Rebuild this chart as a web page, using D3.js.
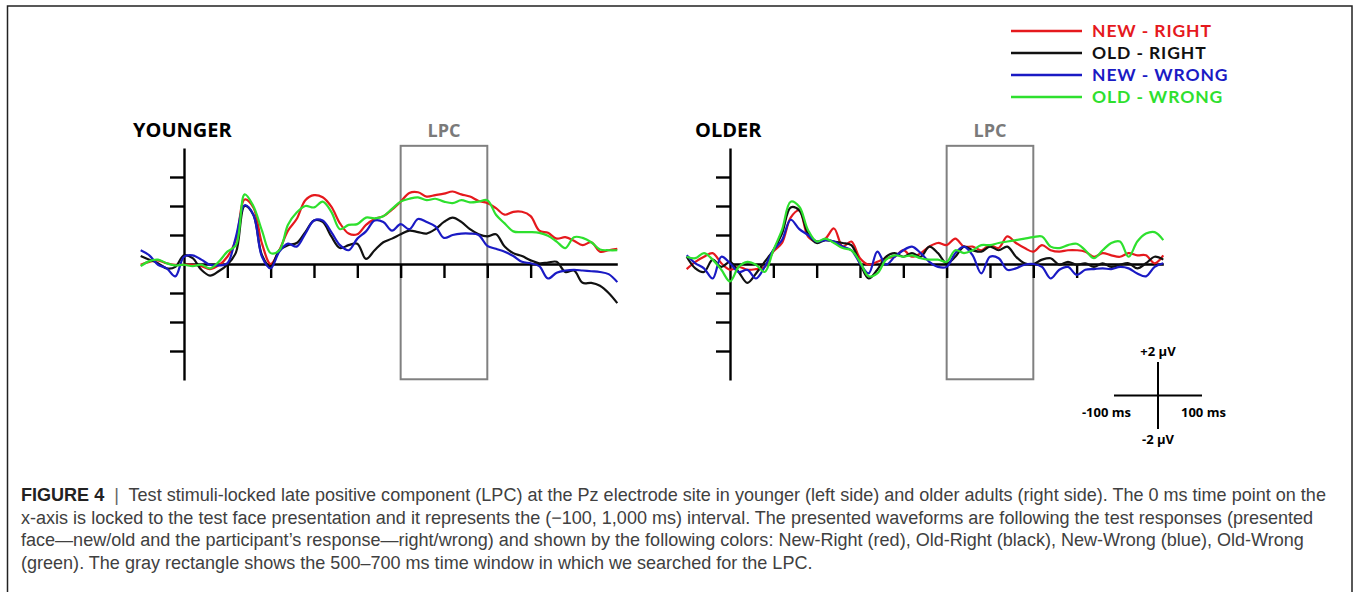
<!DOCTYPE html>
<html>
<head>
<meta charset="utf-8">
<script src="https://cdnjs.cloudflare.com/ajax/libs/d3/7.8.5/d3.min.js"></script>
<style>
	body { margin: 0; background: #fff; }
	svg { display: block; }
</style>
</head>
<body>
<div id="fig"><svg></svg></div>
<script>
var WIDTH = 1356;
var HEIGHT = 592;
var PX_PER_MS = 0.4333;

// time points (ms) of the sampled waveforms
var times = [-100, -80, -60, -40, -20, 0, 20, 40, 60, 80, 100, 120, 140, 160, 180, 200, 220, 240, 260, 280,
	300, 320, 340, 360, 380, 400, 420, 440, 460, 480, 500, 520, 540, 560, 580, 600, 620, 640, 660, 680,
	700, 720, 740, 760, 780, 800, 820, 840, 860, 880, 900, 920, 940, 960, 980, 1000];

// younger adults, µV
var youngRed = [-0.05, 0.15, 0.25, 0.05, -0.05, -0.05, -0.05, -0.15, -0.35, -0.1, 0.5, 1.7, 4.45, 3.9, 1.4, 0.0, 0.95, 2.3, 3.1, 4.4,
	4.75, 4.6, 3.95, 2.8, 2.1, 2.05, 2.7, 3.1, 3.3, 3.75, 4.3, 4.9, 4.95, 4.65, 4.75, 4.85, 5.0, 4.8, 4.65, 4.35,
	4.2, 3.85, 3.4, 3.6, 3.6, 3.3, 2.3, 2.15, 1.75, 1.85, 1.6, 1.3, 1.5, 0.85, 0.95, 1.05];
var youngBlack = [0.55, 0.3, 0.05, -0.3, -0.2, 0.6, 0.4, -0.4, -0.8, -0.5, -0.05, 0.8, 4.0, 3.4, 0.6, -0.2, 0.95, 1.3, 1.45, 2.2,
	3.0, 2.9, 1.9, 1.1, 1.3, 1.4, 0.35, 0.95, 1.5, 1.75, 2.05, 2.3, 2.2, 2.1, 2.4, 2.9, 3.2, 2.9, 2.4, 2.05,
	1.9, 2.05, 1.2, 0.75, 0.55, 0.25, 0.05, 0.1, 0.15, -0.55, -0.45, -1.3, -1.3, -1.5, -2.0, -2.7];
var youngBlue = [0.95, 0.6, -0.05, -0.3, -0.85, 0.5, 0.6, 0.3, -0.05, -0.1, 0.05, 1.9, 4.05, 3.4, 0.5, -0.3, 0.85, 1.4, 1.2, 2.1,
	3.0, 3.0, 2.2, 1.3, 0.95, 1.75, 2.25, 3.0, 2.9, 2.3, 2.75, 2.4, 3.1, 2.9, 2.6, 1.8, 2.0, 2.1, 2.1, 2.0,
	1.25, 1.05, 0.85, 0.55, 0.15, 0.05, -0.15, -1.0, -0.6, -0.45, -0.4, -0.45, -0.5, -0.55, -0.7, -1.25];
var youngGreen = [-0.15, 0.2, 0.3, 0.05, -0.1, -0.05, -0.15, -0.05, -0.3, 0.15, 0.85, 1.3, 4.8, 4.0, 2.3, 0.75, 0.95, 2.7, 3.55, 4.0,
	3.9, 4.3, 3.6, 2.4, 2.7, 2.75, 3.2, 3.15, 3.3, 3.8, 4.3, 4.5, 4.6, 4.4, 4.5, 4.3, 4.2, 4.4, 4.25, 4.3,
	4.4, 3.4, 2.8, 2.25, 2.2, 2.2, 2.15, 1.95, 1.55, 1.1, 1.85, 1.8, 1.5, 1.0, 0.95, 0.95];

// older adults, µV
var oldRed = [-0.35, 0.15, 0.5, 0.75, 0.05, -0.4, -0.2, -0.4, -0.35, -0.2, 0.85, 1.45, 3.2, 3.7, 1.9, 1.55, 1.75, 2.45, 1.2, 1.55,
	0.4, -0.05, 0.15, 0.4, 0.5, 0.95, 0.5, 0.75, 1.2, 1.45, 1.3, 1.75, 1.2, 1.2, 0.95, 1.3, 1.1, 1.9, 1.45, 1.1,
	0.85, 1.3, 0.95, 0.85, 0.95, 0.95, 0.85, 0.5, 0.75, 0.6, 0.5, 0.75, 0.6, 0.6, 0.05, 0.6];
var oldBlack = [0.5, -0.3, -0.55, 0.3, -0.2, 0.15, -0.55, -1.3, -0.65, 0.15, 0.95, 2.1, 3.9, 3.7, 2.1, 1.45, 1.65, 1.55, 1.45, 1.3,
	0.05, -1.0, -0.4, 0.5, 0.75, 0.5, 0.75, 0.5, 1.2, 0.75, 0.05, 0.5, 1.2, 0.95, 0.85, 1.2, 0.95, 1.2, 0.5, 0.05,
	0.0, 0.3, 0.4, -0.05, 0.15, -0.05, 0.05, -0.2, 0.05, -0.2, -0.05, 0.05, -0.3, 0.05, 0.5, 0.3];
var oldBlue = [0.6, 0.05, -0.3, -1.0, 0.5, 0.05, -0.55, -0.4, -1.0, -0.2, 0.95, 1.65, 3.05, 2.4, 2.0, 1.55, 1.65, 1.55, 1.2, 0.95,
	0.05, -0.65, 0.85, -0.05, 0.5, 0.95, 1.2, 0.75, 0.15, -0.2, -0.2, 0.75, 1.2, 0.6, -0.65, 0.5, 0.4, -0.4, -0.3, -0.05,
	0.0, -0.2, -1.0, -0.4, -0.2, -0.75, -0.4, -0.35, -0.3, -0.35, -0.2, -0.3, -0.65, -0.85, -0.2, 0.05];
var oldGreen = [0.5, 0.4, 0.75, 0.3, -0.4, -1.2, -0.2, 0.15, -0.05, -0.55, 0.95, 2.35, 4.3, 3.95, 2.35, 1.55, 1.75, 1.45, 1.1, 0.95,
	0.15, -0.85, -0.65, 0.3, 0.6, 0.5, 0.6, 0.4, 0.3, 0.3, 0.15, 0.95, 0.75, 0.95, 1.3, 1.3, 1.45, 1.55, 1.65, 1.75,
	1.85, 1.9, 1.2, 1.1, 1.3, 1.4, 0.95, 0.4, 0.95, 1.45, 1.55, 0.5, 1.55, 2.1, 2.2, 1.65];

var seriesNames = ['NEW - RIGHT', 'OLD - RIGHT', 'NEW - WRONG', 'OLD - WRONG'];
var seriesColors = ['#e5191d', '#111111', '#1a1ac4', '#2ee02e'];

var xTicks = [100, 200, 300, 400, 500, 600, 700, 800];
var yTicks = [-6, -4, -2, 2, 4, 6];
var lpcWindow = [500, 700];

var captionLabel = 'FIGURE 4';
var captionLines = [
	'Test stimuli-locked late positive component (LPC) at the Pz electrode site in younger (left side) and older adults (right side). The 0 ms time point on the',
	'x-axis is locked to the test face presentation and it represents the (\u2212100, 1,000 ms) interval. The presented waveforms are following the test responses (presented',
	'face\u2014new/old and the participant\u2019s response\u2014right/wrong) and shown by the following colors: New-Right (red), Old-Right (black), New-Wrong (blue), Old-Wrong',
	'(green). The gray rectangle shows the 500\u2013700 ms time window in which we searched for the LPC.'
];

var LABEL_FONT = "'Open Sans', 'DejaVu Sans', sans-serif";
var LEGEND_FONT = "Lato, 'Open Sans', sans-serif";
var CAPTION_FONT = "'Liberation Sans', Arial, sans-serif";

function drawPanel(svg, zeroX, title, titleX, values) {
	var x = d3.scaleLinear()
		.domain([-100, 1000])
		.range([zeroX - 100*PX_PER_MS, zeroX + 1000*PX_PER_MS]);
	var y = d3.scaleLinear()
		.domain([-8, 8])
		.range([380, 148]);

	var g = svg.append('g');

	g.append('text')
		.attr('x', titleX)
		.attr('y', 137)
		.attr('font-family', LABEL_FONT)
		.attr('font-weight', 700)
		.attr('font-size', 20)
		.attr('fill', '#000')
		.text(title);

	// LPC search window
	g.append('rect')
		.attr('x', x(lpcWindow[0]))
		.attr('y', y(8.15))
		.attr('width', x(lpcWindow[1]) - x(lpcWindow[0]))
		.attr('height', y(-7.95) - y(8.15))
		.attr('fill', 'none')
		.attr('stroke', '#808080')
		.attr('stroke-width', 2);

	g.append('text')
		.attr('x', x((lpcWindow[0] + lpcWindow[1])/2))
		.attr('y', 137)
		.attr('text-anchor', 'middle')
		.attr('font-family', LABEL_FONT)
		.attr('font-weight', 700)
		.attr('font-size', 18)
		.attr('fill', '#7a7a7a')
		.text('LPC');

	// axes cross at 0 ms / 0 µV
	var xAxisScale = x.copy().domain([0, 1000]).range([x(0), x(1000)]);

	var xAxis = g.append('g')
		.attr('transform', 'translate(0,' + y(0) + ')')
		.call(d3.axisBottom(xAxisScale).tickValues(xTicks).tickSize(14).tickSizeOuter(0).tickFormat(''));

	var yAxis = g.append('g')
		.attr('transform', 'translate(' + x(0) + ',0)')
		.call(d3.axisLeft(y).tickValues(yTicks).tickSize(14).tickSizeOuter(0).tickFormat(''));

	[xAxis, yAxis].forEach(function(a) {
		a.selectAll('path, line')
			.attr('stroke', '#000')
			.attr('stroke-width', 2.4);
	});

	var line = d3.line()
		.x(function(d, i) { return x(times[i]); })
		.y(function(d) { return y(d); })
		.curve(d3.curveCatmullRom.alpha(0.5));

	values.forEach(function(v, i) {
		g.append('path')
			.attr('d', line(v))
			.attr('fill', 'none')
			.attr('stroke', seriesColors[i])
			.attr('stroke-width', 2.2)
			.attr('stroke-linejoin', 'round');
	});
}

function drawLegend(svg) {
	var rows = d3.scaleLinear().domain([0, 3]).range([31, 97]);

	seriesNames.forEach(function(name, i) {
		svg.append('line')
			.attr('x1', 1011)
			.attr('x2', 1082)
			.attr('y1', rows(i))
			.attr('y2', rows(i))
			.attr('stroke', seriesColors[i])
			.attr('stroke-width', 2.6);
	});

	var labels = svg.selectAll('text.legend')
		.data(seriesNames)
		.enter().append('text')
		.attr('class', 'legend')
		.attr('x', 1092)
		.attr('y', function(d, i) { return rows(i) + 6.3; })
		.attr('font-family', LEGEND_FONT)
		.attr('font-weight', 700)
		.attr('font-size', 17.5)
		.attr('fill', function(d, i) { return seriesColors[i]; })
		.text(function(d) { return d; });

	// the printed labels are wider than Lato; spread the letters to match
	var w = labels.node().getComputedTextLength();
	var spacing = Math.max(0, (119 - w) / (seriesNames[0].length - 1));
	labels.attr('letter-spacing', spacing);
}

function drawScaleBar(svg) {
	var sx = d3.scaleLinear().domain([-100, 100]).range([1114, 1202]);
	var sy = d3.scaleLinear().domain([-2, 2]).range([429, 362]);

	svg.append('line')
		.attr('x1', sx(0)).attr('x2', sx(0))
		.attr('y1', sy(-2)).attr('y2', sy(2))
		.attr('stroke', '#000').attr('stroke-width', 2);
	svg.append('line')
		.attr('x1', sx(-100)).attr('x2', sx(100))
		.attr('y1', sy(0)).attr('y2', sy(0))
		.attr('stroke', '#000').attr('stroke-width', 2);

	var labels = [
		{text: '+2 \u00b5V', x: sx(0), y: sy(2) - 6, anchor: 'middle'},
		{text: '-2 \u00b5V', x: sx(0), y: sy(-2) + 15, anchor: 'middle'},
		{text: '-100 ms', x: sx(-100) + 17, y: sy(0) + 21, anchor: 'end'},
		{text: '100 ms', x: sx(100) - 21, y: sy(0) + 21, anchor: 'start'}
	];

	svg.selectAll('text.scale')
		.data(labels)
		.enter().append('text')
		.attr('class', 'scale')
		.attr('x', function(d) { return d.x; })
		.attr('y', function(d) { return d.y; })
		.attr('text-anchor', function(d) { return d.anchor; })
		.attr('font-family', LABEL_FONT)
		.attr('font-weight', 700)
		.attr('font-size', 13)
		.attr('fill', '#000')
		.text(function(d) { return d.text; });
}

function drawCaption(svg) {
	var fontSize = 15;
	var baseY = 501;
	var lineGap = 22.5;

	var t = svg.append('g')
		.attr('font-family', CAPTION_FONT)
		.attr('font-size', fontSize)
		.attr('fill', '#404040');

	captionLines.forEach(function(txt, i) {
		var el = t.append('text')
			.attr('x', 21)
			.attr('y', baseY + i*lineGap)
			.attr('xml:space', 'preserve');
		if (i == 0) {
			el.append('tspan').attr('font-weight', 700).attr('fill', '#222').text(captionLabel);
			el.append('tspan').attr('fill', '#666').text('  |  ');
		}
		el.append('tspan').text(txt);
	});

	// squeeze the font so the first line ends where the printed one does
	var first = t.select('text').node();
	var w = first.getComputedTextLength();
	var fit = fontSize * 1306 / w;
	t.attr('font-size', fit);
}

function init() {
	var svg = d3.select('#fig').select('svg')
		.attr('width', WIDTH)
		.attr('height', HEIGHT);

	svg.append('rect')
		.attr('x', 7.5)
		.attr('y', 6)
		.attr('width', 1344.5)
		.attr('height', 600)
		.attr('fill', '#fff')
		.attr('stroke', '#222')
		.attr('stroke-width', 1.5);

	drawPanel(svg, 184, 'YOUNGER', 133, [youngRed, youngBlack, youngBlue, youngGreen]);
	drawPanel(svg, 730, 'OLDER', 695, [oldRed, oldBlack, oldBlue, oldGreen]);
	drawLegend(svg);
	drawScaleBar(svg);
	drawCaption(svg);
}

init();
</script>
</body>
</html>
